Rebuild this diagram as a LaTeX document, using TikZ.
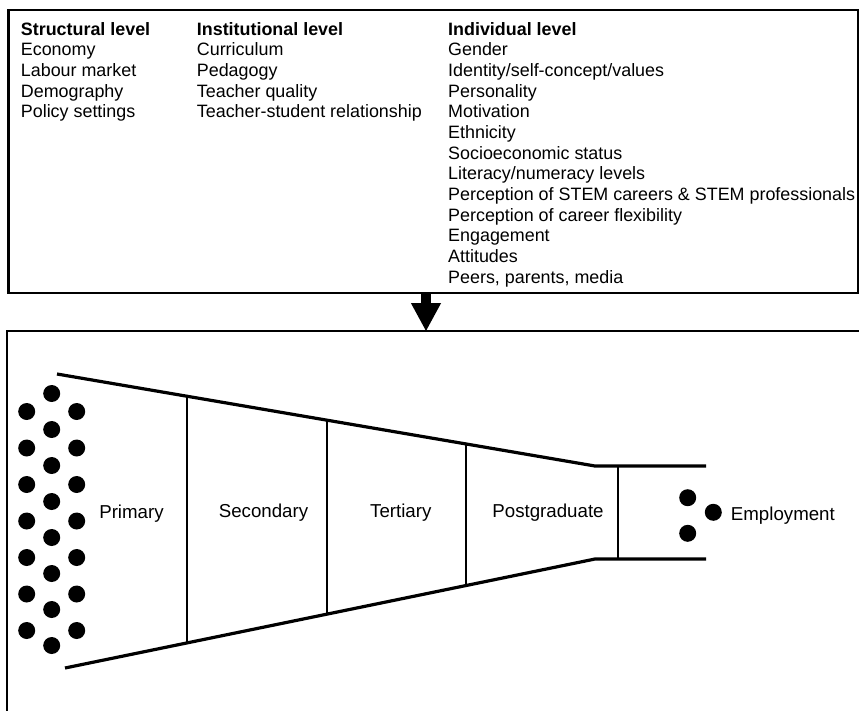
\documentclass[tikz,border=0pt]{standalone}
\usepackage{fontspec}
\setmainfont{Liberation Sans}
\usetikzlibrary{arrows.meta}
\begin{document}
\begin{tikzpicture}[x=1pt,y=-1pt,
  frame/.style={line width=2.3pt},
  funnel/.style={line width=3.2pt},
  divider/.style={line width=2pt},
  dot/.style={circle, fill=black, minimum size=17pt, inner sep=0pt},
  txt/.style={anchor=base west, inner sep=0pt, font=\fontsize{17.9}{20.67}\selectfont},
  hdr/.style={anchor=base west, inner sep=0pt, font=\bfseries\fontsize{17.9}{20.67}\selectfont},
  lbl/.style={anchor=base, inner sep=0pt, font=\fontsize{18.7}{22}\selectfont}]
\useasboundingbox (0,0) rectangle (859,710);

% top box
\draw[frame] (8.5,10) rectangle (858,293);
% bottom box (open right and bottom)
\draw[frame] (860,331) -- (7,331) -- (7,712);

% column 1
\node[hdr] (s0) at (20.7,35) {Structural level};
\foreach \t [count=\i] in {Economy,Labour market,Demography,Policy settings}
  \node[txt] (s\i) at (20.7,35+20.67*\i) {\t};
% column 2
\node[hdr] (n0) at (196.7,35) {Institutional level};
\foreach \t [count=\i] in {Curriculum,Pedagogy,Teacher quality,Teacher-student relationship}
  \node[txt] (n\i) at (196.7,35+20.67*\i) {\t};
% column 3
\node[hdr] (d0) at (448,35) {Individual level};
\foreach \t [count=\i] in {Gender,Identity/self-concept/values,Personality,Motivation,Ethnicity,Socioeconomic status,Literacy/numeracy levels,Perception of STEM careers \& STEM professionals,Perception of career flexibility,Engagement,Attitudes,{Peers, parents, media}}
  \node[txt] (d\i) at (448,35+20.67*\i) {\t};

% block arrow between the boxes
\coordinate (topS) at (426,292);
\coordinate (botN) at (426,331.5);
\draw[line width=10pt, -{Triangle[width=28pt,length=28.5pt]}] (topS) -- (botN);

% funnel
\draw[funnel] (57,374) -- (595,466) -- (706,466);
\draw[funnel] (65,668) -- (595,559) -- (706,559);
\draw[divider] (187.3,396.3) -- (187.3,642.8);
\draw[divider] (326.7,420.1) -- (326.7,614.2);
\draw[divider] (466,443.9) -- (466,585.5);
\draw[divider] (617.5,466) -- (617.5,559);

% dots entering
\foreach \k in {0,...,6} {
  \node[dot] (l\k) at (26.7,411.5+36.5*\k) {};
  \node[dot] (r\k) at (76.7,411.5+36.5*\k) {};
}
\foreach \k in {0,...,7}
  \node[dot] (m\k) at (51.7,393.5+36.0*\k) {};

% dots leaving
\node[dot] (e1) at (687.7,497.7) {};
\node[dot] (e2) at (687.7,533.3) {};
\node[dot] (e3) at (713.3,512.3) {};

% stage labels
\node[lbl] (primary) at (131.5,518) {Primary};
\node[lbl] (secondary) at (263.5,517.3) {Secondary};
\node[lbl] (tertiary) at (400.8,517.3) {Tertiary};
\node[lbl] (postgrad) at (548,517.3) {Postgraduate};
\node[lbl, anchor=base west] (employment) at (730.7,520.7) {Employment};
\end{tikzpicture}
\end{document}
